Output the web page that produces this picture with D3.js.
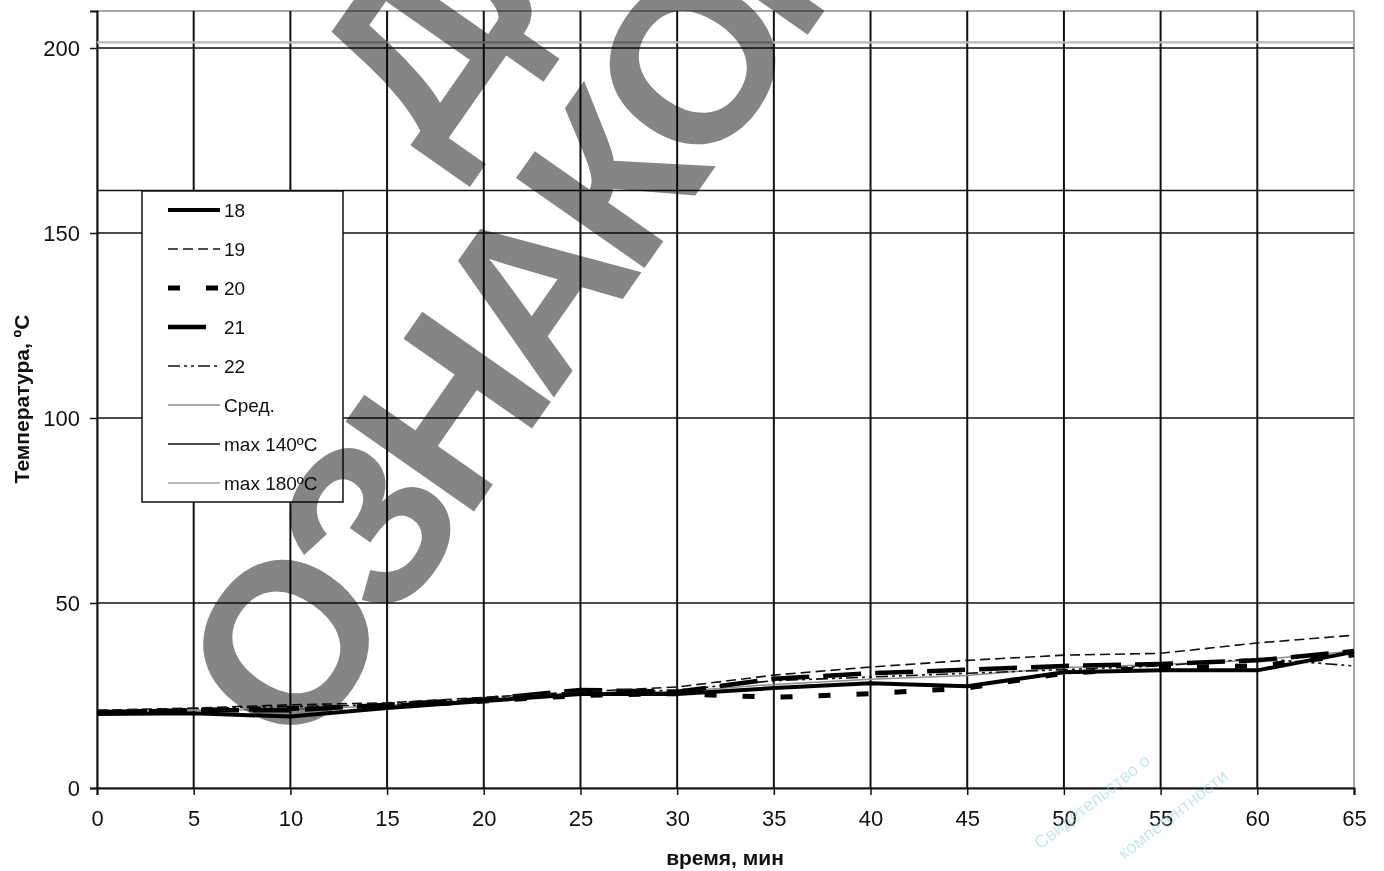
<!DOCTYPE html>
<html>
<head>
<meta charset="utf-8">
<script src="https://cdn.jsdelivr.net/npm/d3@7"></script>
<style>
  body { margin: 0; background: #fff; }
  svg { display: block; font-family: Arial, "Liberation Sans", sans-serif; }
</style>
</head>
<body>
<svg width="1384" height="871"></svg>
<script>
// time, minutes
var time = [0, 5, 10, 15, 20, 25, 30, 35, 40, 45, 50, 55, 60, 65];

// temperatures
var t18 = [20, 20.2, 19.3, 21.6, 23.5, 25.4, 25.4, 27, 28.3, 27.5, 31.3, 31.8, 31.8, 36.8];
var t19 = [21, 21.6, 22.5, 23, 24.5, 26, 27.3, 30.5, 32.7, 34.5, 35.9, 36.4, 39.2, 41.3];
var t20 = [20.5, 21, 21.5, 22, 23.5, 25, 25.5, 24.5, 25.5, 27, 31, 32.5, 33, 36];
var t21 = [20.5, 21, 21, 22.5, 24, 26.5, 26, 29.5, 31, 32, 33, 33.5, 34.5, 37];
var t22 = [20.5, 21.5, 22, 22.5, 24, 25.5, 26.5, 29, 30, 31, 32, 33, 35, 33];
var tAvg = [20.6, 21, 21.2, 22.2, 23.9, 25.6, 26.1, 28, 29.4, 30.4, 32.6, 33.4, 34.6, 37];
var limit140 = 161.5;
var limit180 = 201.5;

var xTicks = [0, 5, 10, 15, 20, 25, 30, 35, 40, 45, 50, 55, 60, 65];
var yTicks = [0, 50, 100, 150, 200];

var svg = d3.select("svg");

var x = d3.scaleLinear().domain([0, 65]).range([97, 1354]);
var y = d3.scaleLinear().domain([0, 210]).range([788, 11]);

// plot frame
svg.append("rect")
  .attr("x", x(0)).attr("y", y(210))
  .attr("width", x(65) - x(0)).attr("height", y(0) - y(210))
  .attr("fill", "none").attr("stroke", "#8a8a8a").attr("stroke-width", 1.5);

// grid
svg.append("g").selectAll("line").data(xTicks.slice(1, -1)).enter().append("line")
  .attr("x1", d => x(d)).attr("x2", d => x(d))
  .attr("y1", y(210)).attr("y2", y(0))
  .attr("stroke", "#111").attr("stroke-width", 2);

svg.append("g").selectAll("line").data(yTicks.slice(1)).enter().append("line")
  .attr("x1", x(0)).attr("x2", x(65))
  .attr("y1", d => y(d)).attr("y2", d => y(d))
  .attr("stroke", "#111").attr("stroke-width", 1.5);

// axes
var xAxis = svg.append("g")
  .attr("transform", "translate(0," + y(0) + ")")
  .call(d3.axisBottom(x).tickValues(xTicks).tickSize(7).tickPadding(15));
var yAxis = svg.append("g")
  .attr("transform", "translate(" + x(0) + ",0)")
  .call(d3.axisLeft(y).tickValues(yTicks).tickSize(7).tickPadding(10));

[xAxis, yAxis].forEach(function(a) {
  a.select(".domain").attr("stroke", "#111").attr("stroke-width", 2);
  a.selectAll(".tick line").attr("stroke", "#111").attr("stroke-width", 1.5);
  a.selectAll(".tick text").attr("font-size", "22px").attr("fill", "#111")
    .attr("font-family", "Arial, 'Liberation Sans', sans-serif");
});

svg.append("text")
  .attr("x", 725).attr("y", 865)
  .attr("text-anchor", "middle")
  .attr("font-size", "21px").attr("font-weight", "bold").attr("fill", "#111")
  .text("время, мин");

svg.append("text")
  .attr("transform", "translate(29,399) rotate(-90)")
  .attr("text-anchor", "middle")
  .attr("font-size", "21px").attr("font-weight", "bold").attr("fill", "#111")
  .text("Температура, ºС");

// series
var series = [
  { name: "18", values: t18, color: "#000", width: 4, dash: null },
  { name: "19", values: t19, color: "#111", width: 1.6, dash: "10,5" },
  { name: "20", values: t20, color: "#000", width: 5, dash: "12,26" },
  { name: "21", values: t21, color: "#000", width: 4.5, dash: "38,14" },
  { name: "22", values: t22, color: "#111", width: 1.6, dash: "12,4,3,4,3,4" },
  { name: "Сред.", values: tAvg, color: "#8c8c8c", width: 1.5, dash: null },
  { name: "max 140ºC", values: time.map(() => limit140), color: "#111", width: 1.5, dash: null },
  { name: "max 180ºC", values: time.map(() => limit180), color: "#b8b8b8", width: 2.2, dash: null }
];

var line = d3.line()
  .x((d, i) => x(time[i]))
  .y(d => y(d));

svg.append("g").selectAll("path").data(series.slice().reverse()).enter().append("path")
  .attr("d", d => line(d.values))
  .attr("fill", "none")
  .attr("stroke", d => d.color)
  .attr("stroke-width", d => d.width)
  .attr("stroke-dasharray", d => d.dash);

// legend
var legend = svg.append("g");
legend.append("rect")
  .attr("x", 142).attr("y", 191).attr("width", 201).attr("height", 311)
  .attr("fill", "#fff").attr("stroke", "#111").attr("stroke-width", 1.5);

var item = legend.selectAll("g.item").data(series).enter().append("g")
  .attr("class", "item")
  .attr("transform", (d, i) => "translate(0," + (210 + i * 39) + ")");
item.append("line")
  .attr("x1", 168).attr("x2", 220).attr("y1", 0).attr("y2", 0)
  .attr("stroke", d => d.color)
  .attr("stroke-width", d => d.width)
  .attr("stroke-dasharray", d => d.dash);
item.append("text")
  .attr("x", 224).attr("y", 7)
  .attr("font-size", "19px").attr("fill", "#111")
  .text(d => d.name);

// faint stamp, bottom right
var stamp = svg.append("g")
  .attr("transform", "translate(1040,850) rotate(-38)")
  .attr("fill", "#8fd0df").attr("opacity", 0.5)
  .attr("font-size", "18px");
stamp.append("text").attr("x", 0).attr("y", 0).text("Свидетельство о");
stamp.append("text").attr("x", 60).attr("y", 60).text("компетентности");

// watermark
var wm = svg.append("g")
  .style("mix-blend-mode", "multiply")
  .attr("transform", "translate(300,760) rotate(-55)")
  .attr("fill", "#858585")
  .attr("font-weight", "bold")
  .attr("font-size", "228px");
wm.append("text").attr("x", 0).attr("y", 0)
  .attr("letter-spacing", "-16px").text("ОЗНАКОМЛЕНИЯ");
wm.append("text").attr("x", 565).attr("y", -235)
  .attr("letter-spacing", "-16px").text("ДЛЯ");
</script>
</body>
</html>
